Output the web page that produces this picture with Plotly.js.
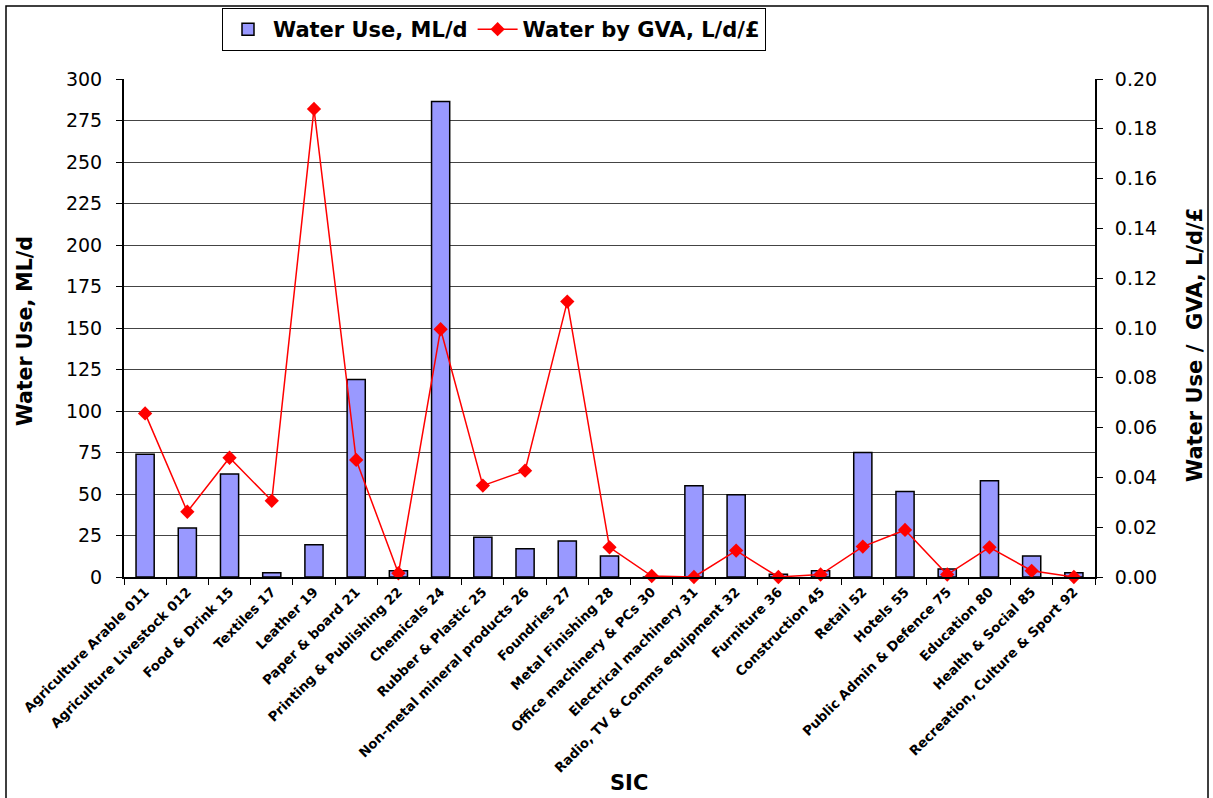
<!DOCTYPE html>
<html>
<head>
<meta charset="utf-8">
<script src="https://cdn.plot.ly/plotly-3.0.1.min.js"></script>
<style>
  html, body { margin: 0; padding: 0; background: #fff; }
  #chart { width: 1213px; height: 798px; }
</style>
</head>
<body>
<div id="chart"></div>
<script>
// Industry sectors by Standard Industrial Classification
const sectors = [
  "Agriculture Arable 011", "Agriculture Livestock 012", "Food & Drink 15", "Textiles 17",
  "Leather 19", "Paper & board 21", "Printing & Publishing 22", "Chemicals 24",
  "Rubber & Plastic 25", "Non-metal mineral products 26", "Foundries 27", "Metal Finishing 28",
  "Office machinery & PCs 30", "Electrical machinery 31", "Radio, TV & Comms equipment 32",
  "Furniture 36", "Construction 45", "Retail 52", "Hotels 55", "Public Admin & Defence 75",
  "Education 80", "Health & Social 85", "Recreation, Culture & Sport 92"
];

// Water use, ML/d
const waterUse = [
  74, 29.5, 62, 2.5, 19.5, 119, 3.8, 286.5, 24, 17, 21.7, 12.7,
  0, 55, 49.5, 1.6, 3.8, 75, 51.5, 4.8, 58, 12.7, 2.6
];

// Water use per unit of gross value added, L/d/£
const waterByGva = [
  0.0657, 0.0262, 0.0479, 0.0306, 0.1880, 0.0470, 0.0015, 0.0995, 0.0367, 0.0427, 0.1106, 0.0119,
  0.0004, 0.0, 0.0106, 0.0, 0.0010, 0.0122, 0.0189, 0.0010, 0.0119, 0.0025, 0.0
];

const FONT = "DejaVu Sans, Verdana, sans-serif";

const traces = [
  {
    type: "bar",
    name: "Water Use, ML/d",
    x: sectors,
    y: waterUse,
    marker: { color: "#9999FF", line: { color: "#000000", width: 1.5 } },
    yaxis: "y",
    hoverinfo: "x+y"
  },
  {
    type: "scatter",
    mode: "lines+markers",
    name: "Water by GVA, L/d/£",
    x: sectors,
    y: waterByGva,
    yaxis: "y2",
    line: { color: "#FF0000", width: 1.5 },
    marker: { symbol: "diamond", size: 11, color: "#FF0000" },
    cliponaxis: false
  }
];

const plotL = 124, plotR = 1095, plotT = 79, plotB = 577, W = 1213, H = 798;
const pw = plotR - plotL, ph = plotB - plotT;
const px = v => (v - plotL) / pw;
const py = v => (plotB - v) / ph;

const layout = {
  width: W,
  height: H,
  margin: { l: plotL, r: W - plotR, t: plotT, b: H - plotB, pad: 0, autoexpand: false },
  paper_bgcolor: "#ffffff",
  plot_bgcolor: "#ffffff",
  font: { family: FONT, color: "#000000" },
  bargap: 0.57,
  showlegend: true,
  legend: {
    orientation: "h",
    x: px(222), xanchor: "left",
    y: py(8), yanchor: "top",
    bgcolor: "#ffffff",
    bordercolor: "#000000",
    borderwidth: 1,
    font: { family: FONT, size: 21, weight: "bold", color: "#000000" },
    traceorder: "normal",
    itemwidth: 40,
    tracegroupgap: 0
  },
  xaxis: {
    type: "category",
    range: [-0.5, sectors.length - 0.5],
    tickangle: -45,
    tickfont: { family: FONT, size: 13.3, weight: "bold", color: "#000000" },
    ticks: "outside",
    tickson: "boundaries",
    ticklen: 6,
    tickcolor: "#000000",
    showline: true,
    linecolor: "#000000",
    linewidth: 2,
    showgrid: false,
    automargin: false,
    fixedrange: true
  },
  yaxis: {
    range: [0, 300],
    tick0: 0,
    dtick: 25,
    ticks: "outside",
    ticklen: 6,
    tickcolor: "#000000",
    tickfont: { family: FONT, size: 19, color: "#000000" },
    ticklabelstandoff: 10,
    showline: true,
    linecolor: "#000000",
    linewidth: 2,
    showgrid: true,
    gridcolor: "#444444",
    gridwidth: 1,
    zeroline: false,
    automargin: false,
    fixedrange: true
  },
  yaxis2: {
    overlaying: "y",
    side: "right",
    range: [0, 0.2],
    tick0: 0,
    dtick: 0.02,
    tickformat: ".2f",
    ticks: "outside",
    ticklen: 6,
    tickcolor: "#000000",
    tickfont: { family: FONT, size: 19, color: "#000000" },
    ticklabelstandoff: 8,
    showline: true,
    linecolor: "#000000",
    linewidth: 2,
    showgrid: false,
    zeroline: false,
    automargin: false,
    fixedrange: true
  },
  annotations: [
    {
      text: "Water Use, ML/d",
      xref: "paper", yref: "paper",
      x: px(25), y: py(331),
      xanchor: "center", yanchor: "middle",
      textangle: -90,
      showarrow: false,
      font: { family: FONT, size: 20.5, weight: "bold", color: "#000000" }
    },
    {
      text: "Water Use /  GVA, L/d/£",
      xref: "paper", yref: "paper",
      x: px(1195), y: py(345),
      xanchor: "center", yanchor: "middle",
      textangle: -90,
      showarrow: false,
      font: { family: FONT, size: 21, weight: "bold", color: "#000000" }
    },
    {
      text: "SIC",
      xref: "paper", yref: "paper",
      x: px(629), y: py(783),
      xanchor: "center", yanchor: "middle",
      showarrow: false,
      font: { family: FONT, size: 21, weight: "bold", color: "#000000" }
    }
  ],
  shapes: [
    {
      type: "rect",
      xref: "paper", yref: "paper",
      x0: px(6), x1: px(1208),
      y0: py(820), y1: py(6),
      line: { color: "#000000", width: 1.5 },
      fillcolor: "rgba(0,0,0,0)",
      layer: "below"
    }
  ]
};

Plotly.newPlot("chart", traces, layout, { displayModeBar: false, staticPlot: true });
</script>
</body>
</html>
